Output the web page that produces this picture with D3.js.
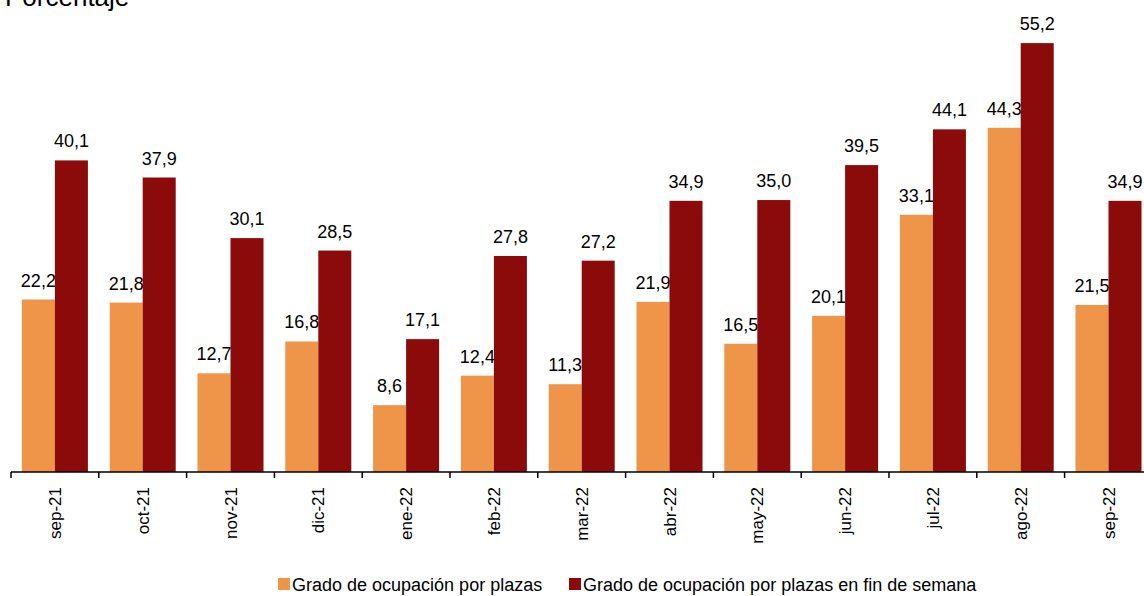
<!DOCTYPE html>
<html>
<head>
<meta charset="utf-8">
<script src="https://cdn.jsdelivr.net/npm/d3@7"></script>
<style>
    body { margin: 0; background: #fff; }
    svg text { font-family: "Liberation Sans", Arial, sans-serif; fill: #000; }
</style>
</head>
<body>
<div id="chart"></div>
<script>
    //Chart data
    const categories = ["sep-21", "oct-21", "nov-21", "dic-21", "ene-22", "feb-22", "mar-22",
        "abr-22", "may-22", "jun-22", "jul-22", "ago-22", "sep-22"];
    const seriesNames = ["Grado de ocupación por plazas", "Grado de ocupación por plazas en fin de semana"];
    const plazas = [22.2, 21.8, 12.7, 16.8, 8.6, 12.4, 11.3, 21.9, 16.5, 20.1, 33.1, 44.3, 21.5];
    const plazasFinSemana = [40.1, 37.9, 30.1, 28.5, 17.1, 27.8, 27.2, 34.9, 35.0, 39.5, 44.1, 55.2, 34.9];
    const colors = ["#EE9549", "#8B0A0A"];

    const width = 1144, height = 596;
    const baseY = 472;

    const svg = d3.select("#chart").append("svg")
        .attr("width", width)
        .attr("height", height);

    //Scales
    const xScale = d3.scaleBand()
        .domain(categories)
        .range([11, 11 + 87.8 * categories.length])
        .padding(0);
    const innerScale = d3.scaleBand()
        .domain([0, 1])
        .range([0, xScale.bandwidth()])
        .paddingInner(0)
        .paddingOuter(0.33);
    const yScale = d3.scaleLinear()
        .domain([0, 60])
        .range([baseY, baseY - 60 * 7.77]);

    const fmt = v => d3.format(".1f")(v).replace(".", ",");

    //Axis title
    svg.append("text")
        .attr("x", 5)
        .attr("y", 6)
        .style("font-size", "26px")
        .text("Porcentaje");

    //Draw series one after another so the red bars cover orange labels
    [plazas, plazasFinSemana].forEach(function (values, s) {
        const g = svg.append("g").attr("class", "series-" + s);
        g.selectAll("rect")
            .data(values)
            .enter()
            .append("rect")
            .attr("x", (d, i) => xScale(categories[i]) + innerScale(s))
            .attr("y", d => yScale(d))
            .attr("width", innerScale.bandwidth())
            .attr("height", d => baseY - yScale(d))
            .attr("fill", colors[s]);
        g.selectAll("text")
            .data(values)
            .enter()
            .append("text")
            .attr("x", (d, i) => xScale(categories[i]) + innerScale(s) + innerScale.bandwidth() / 2)
            .attr("y", d => yScale(d) - 13)
            .attr("text-anchor", "middle")
            .style("font-size", "18px")
            .text(d => fmt(d));
    });

    //X axis
    const axisG = svg.append("g")
        .attr("transform", "translate(0," + baseY + ")");
    axisG.append("line")
        .attr("x1", xScale.range()[0])
        .attr("x2", width + 20)
        .attr("y1", 0)
        .attr("y2", 0)
        .attr("stroke", "#000")
        .attr("stroke-width", 1.5);
    axisG.selectAll(".tick-mark")
        .data(categories)
        .enter()
        .append("line")
        .attr("class", "tick-mark")
        .attr("x1", d => xScale(d))
        .attr("x2", d => xScale(d))
        .attr("y1", 0)
        .attr("y2", 6)
        .attr("stroke", "#000")
        .attr("stroke-width", 1.5);
    axisG.selectAll(".cat-label")
        .data(categories)
        .enter()
        .append("text")
        .attr("class", "cat-label")
        .attr("text-anchor", "end")
        .attr("transform", d => "translate(" + (xScale(d) + xScale.bandwidth() / 2 + 6) + ",15) rotate(-90)")
        .style("font-size", "17px")
        .text(d => d);

    //Legend
    const legendItems = [{x: 278, name: seriesNames[0], color: colors[0]},
        {x: 569, name: seriesNames[1], color: colors[1]}];
    const legend = svg.selectAll(".legend-item")
        .data(legendItems)
        .enter()
        .append("g")
        .attr("class", "legend-item")
        .attr("transform", d => "translate(" + d.x + ",578)");
    legend.append("rect")
        .attr("width", 12)
        .attr("height", 12)
        .attr("fill", d => d.color);
    legend.append("text")
        .attr("x", 14)
        .attr("y", 13)
        .style("font-size", "18px")
        .text(d => d.name);
</script>
</body>
</html>
